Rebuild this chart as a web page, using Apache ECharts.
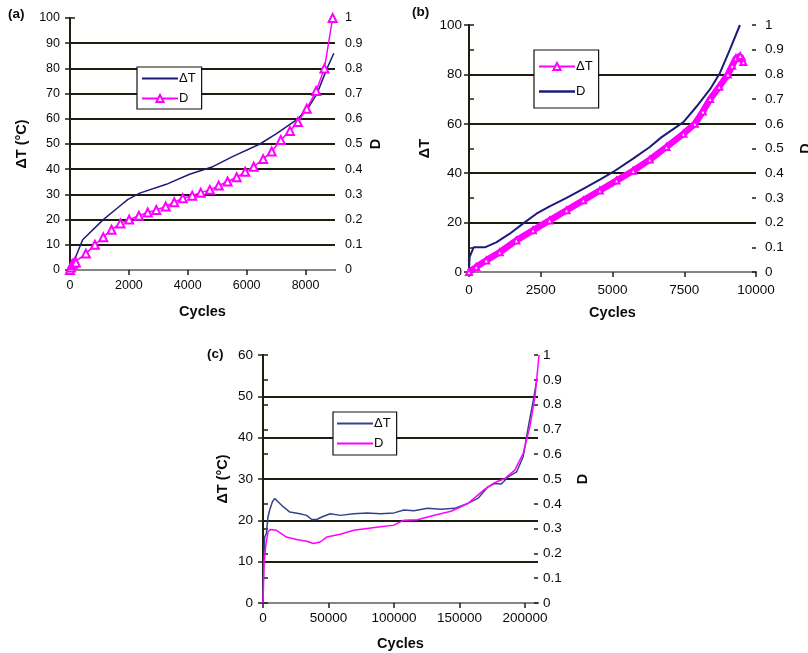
<!DOCTYPE html>
<html>
<head>
<meta charset="utf-8">
<script src="https://cdn.jsdelivr.net/npm/echarts@6/dist/echarts.min.js"></script>
<style>
  html, body { margin: 0; padding: 0; background: #fff; }
  #chart { width: 808px; height: 653px; }
</style>
</head>
<body>
<div id="chart"></div>
<script>
// ---- Panel (a): temperature rise and damage vs. cycles ----
const aDeltaT = [[0,0],[150,4],[430,12],[1130,20],[1600,24.5],[1970,28],[2370,30.5],[3270,34],[4060,38],[4850,41],[5520,45],[6450,50],[7000,54],[7740,60],[8100,64.5],[8390,70],[8730,80],[8960,86]];
const aDamage = [[0,0],[30,0.01],[60,0.02],[100,0.025],[150,0.03],[200,0.03],[540,0.065],[845,0.1],[1130,0.13],[1410,0.16],[1710,0.185],[2010,0.2],[2340,0.215],[2640,0.228],[2930,0.238],[3250,0.252],[3540,0.269],[3830,0.285],[4150,0.295],[4440,0.307],[4750,0.318],[5050,0.335],[5350,0.351],[5660,0.368],[5950,0.39],[6240,0.41],[6560,0.44],[6850,0.47],[7160,0.516],[7470,0.552],[7740,0.587],[8040,0.64],[8360,0.71],[8640,0.8],[8920,1.0]];

// ---- Panel (b) ----
const bDeltaT = [[0,0],[250,2],[600,4.7],[1070,8],[1650,12.8],[2230,16.9],[2810,20.9],[3400,25],[3980,29],[4560,33],[5140,37],[5720,41],[6300,45.5],[6880,50.6],[7470,56],[7870,60],[8150,65],[8400,70],[8720,75],[9020,80],[9170,83.5],[9300,86.5],[9450,87.5],[9560,85]];
const bDamage = [[0,0],[20,0.06],[160,0.1],[550,0.1],[950,0.12],[1420,0.155],[1880,0.196],[2350,0.236],[2810,0.266],[3400,0.3],[3980,0.337],[4560,0.374],[5020,0.405],[5720,0.459],[6300,0.506],[6700,0.545],[7470,0.607],[7930,0.67],[8400,0.74],[8740,0.805],[9090,0.9],[9440,1.0]];

// ---- Panel (c) ----
const cDeltaT = [[0,0],[500,9.5],[1300,16],[2600,16.8],[3800,20.8],[5100,22.5],[7200,24.5],[9000,25.3],[11500,24.5],[15400,23.3],[20500,22],[28200,21.6],[33300,21.2],[37200,20.2],[41000,20.2],[44900,20.8],[51300,21.6],[59000,21.2],[69200,21.6],[79500,21.8],[89700,21.6],[100000,21.8],[107700,22.5],[115400,22.3],[125600,22.9],[135900,22.7],[146200,22.9],[156400,24.1],[164100,25.3],[171800,28.1],[176900,28.9],[182000,28.8],[187200,30.5],[193600,31.7],[198700,35.4],[202600,42.6],[206400,49],[209000,53.8]];
const cDamage = [[0,0],[800,0.159],[2000,0.226],[3800,0.287],[5600,0.296],[10300,0.293],[17900,0.266],[25600,0.256],[33300,0.249],[38500,0.24],[43600,0.246],[48700,0.266],[59000,0.277],[69200,0.293],[79500,0.3],[89700,0.307],[100000,0.314],[107700,0.334],[117900,0.336],[130800,0.354],[143600,0.37],[156400,0.401],[169200,0.458],[176900,0.485],[184600,0.502],[192300,0.536],[198700,0.603],[203800,0.711],[207700,0.832],[210800,1.0]];

// axis ranges and tick steps per panel
const xRanges = [[0, 9000, 2000], [0, 10000, 2500], [0, 210000, 50000]];
const yLeftRanges = [[0, 100, 10], [0, 100, 20], [0, 60, 10]];
const yLeftNames = ['ΔT (°C)', 'ΔT', 'ΔT (°C)'];
const panelTags = ['(a)', '(b)', '(c)'];

const NAVY = '#1c1c78';
const NAVY_C = '#34448a';
const MAGENTA = '#ff00ff';
const INK = '#0a0a0a';
const GRID_INK = '#1e1e10';
const FONT = '"Liberation Sans", Arial, sans-serif';

const grids = [
  { left: 70, top: 18, width: 265, height: 252 },
  { left: 469, top: 25, width: 287, height: 247 },
  { left: 263, top: 355, width: 275, height: 248 }
];
const leftNameGap = [41, 37, 33];
const rightNameGap = [33, 42, 37];
const xNameGap = [34, 33, 33];
const labelSize = [12.5, 13.5, 13.5];
const xLabelMargin = [9, 11, 8];
const leftLabelMargin = [10, 7, 10];
const rightLabelMargin = [10, 9, 5];

const plainNum = v => String(Math.round(v * 1000) / 1000);
const nameStyle = { fontFamily: FONT, fontWeight: 'bold', fontSize: 14.5, color: INK };

const xAxes = [];
const yAxes = [];
grids.forEach((g, i) => {
  const [xmin, xmax, xstep] = xRanges[i];
  // cycles axis
  xAxes.push({
    type: 'value', gridIndex: i, min: xmin, max: xmax, interval: xstep,
    name: 'Cycles', nameLocation: 'middle', nameGap: xNameGap[i],
    nameTextStyle: nameStyle,
    axisLine: { show: true, onZero: false, lineStyle: { color: GRID_INK, width: 2 } },
    axisTick: { show: true, length: 5, lineStyle: { color: GRID_INK, width: 1.5 } },
    axisLabel: { fontFamily: FONT, fontSize: labelSize[i], color: INK, margin: xLabelMargin[i], showMaxLabel: i === 1, formatter: plainNum },
    splitLine: { show: false }
  });
  // light frame edge along the top of the plot
  xAxes.push({
    type: 'value', gridIndex: i, position: 'top', min: xmin, max: xmax,
    axisLine: { show: true, lineStyle: { color: '#a8a8a8', width: 1.5 } },
    axisTick: { show: false }, axisLabel: { show: false }, splitLine: { show: false }
  });
  const [ymin, ymax, ystep] = yLeftRanges[i];
  yAxes.push({
    type: 'value', gridIndex: i, position: 'left', min: ymin, max: ymax, interval: ystep,
    name: yLeftNames[i], nameLocation: 'middle', nameGap: leftNameGap[i],
    nameTextStyle: nameStyle,
    axisLine: { show: true, lineStyle: { color: GRID_INK, width: 2 } },
    axisTick: { show: true, length: 5, lineStyle: { color: GRID_INK, width: 1.5 } },
    axisLabel: { fontFamily: FONT, fontSize: labelSize[i], color: INK, margin: leftLabelMargin[i], formatter: plainNum },
    splitLine: { show: true, showMinLine: false, showMaxLine: false, lineStyle: { color: GRID_INK, width: 2 } }
  });
  yAxes.push({
    type: 'value', gridIndex: i, position: 'right', min: 0, max: 1, interval: 0.1,
    name: 'D', nameLocation: 'middle', nameGap: rightNameGap[i],
    nameTextStyle: nameStyle,
    axisLine: { show: true, lineStyle: { color: GRID_INK, width: 2 } },
    axisTick: { show: true, length: 5, lineStyle: { color: GRID_INK, width: 1.5 } },
    axisLabel: { fontFamily: FONT, fontSize: labelSize[i], color: INK, margin: rightLabelMargin[i], formatter: plainNum },
    splitLine: { show: false }
  });
});
// inner half of the crossing ticks on the D axes of panels (b) and (c)
[1, 2].forEach(i => {
  yAxes.push({
    type: 'value', gridIndex: i, position: 'right', min: 0, max: 1, interval: 0.1,
    axisLine: { show: false },
    axisTick: { show: true, inside: true, length: 4, lineStyle: { color: GRID_INK, width: 1.5 } },
    axisLabel: { show: false }, splitLine: { show: false }
  });
});

const plainLineIcon = 'path://M0,0 L36,0 L36,1.8 L0,1.8 Z';
const stripTag = n => n.split('_')[0];
const legendBase = {
  orient: 'vertical', selectedMode: false,
  backgroundColor: '#fff', borderColor: '#111', borderWidth: 1.2, borderRadius: 0,
  padding: [5, 6, 4, 4], itemWidth: 36, itemHeight: 9, itemGap: 7,
  textStyle: { fontFamily: FONT, fontSize: 13, color: INK, padding: [0, 0, 0, -4] },
  formatter: stripTag
};

const option = {
  animation: false,
  backgroundColor: '#fff',
  grid: grids.map(g => Object.assign({ containLabel: false, outerBoundsMode: 'none' }, g)),
  xAxis: xAxes,
  yAxis: yAxes,
  legend: [
    Object.assign({}, legendBase, { left: 137, top: 67,
      data: [{ name: 'ΔT_a', icon: plainLineIcon }, 'D_a'] }),
    Object.assign({}, legendBase, { left: 534, top: 50, padding: [10, 6, 10, 4], itemGap: 12,
      data: ['ΔT_b', { name: 'D_b', icon: 'path://M0,0 L36,0 L36,2.4 L0,2.4 Z' }] }),
    Object.assign({}, legendBase, { left: 333, top: 412, padding: [5, 6, 5, 4],
      data: [{ name: 'ΔT_c', icon: plainLineIcon }, { name: 'D_c', icon: plainLineIcon }] })
  ],
  graphic: panelTags.map((t, i) => ({
    type: 'text',
    left: [8, 412, 207][i], top: [7, 5, 347][i],
    style: { text: t, font: 'bold 13.5px ' + FONT, fill: INK }
  })),
  series: [
    { name: 'ΔT_a', type: 'line', xAxisIndex: 0, yAxisIndex: 0, data: aDeltaT, symbol: 'none',
      lineStyle: { color: NAVY, width: 1.5 }, itemStyle: { color: NAVY } },
    { name: 'D_a', type: 'line', xAxisIndex: 0, yAxisIndex: 1, data: aDamage, symbol: 'emptyTriangle', symbolSize: 8,
      lineStyle: { color: MAGENTA, width: 1.5 }, itemStyle: { color: MAGENTA, borderWidth: 1.3 } },

    { name: 'ΔT_b', type: 'line', xAxisIndex: 2, yAxisIndex: 2, data: bDeltaT, symbol: 'emptyTriangle', symbolSize: 6,
      lineStyle: { color: MAGENTA, width: 6.5 }, itemStyle: { color: MAGENTA, borderWidth: 2 } },
    { name: 'D_b', type: 'line', xAxisIndex: 2, yAxisIndex: 3, data: bDamage, symbol: 'none',
      lineStyle: { color: NAVY, width: 2 }, itemStyle: { color: NAVY } },

    { name: 'ΔT_c', type: 'line', xAxisIndex: 4, yAxisIndex: 4, data: cDeltaT, symbol: 'none',
      lineStyle: { color: NAVY_C, width: 1.5 }, itemStyle: { color: NAVY_C } },
    { name: 'D_c', type: 'line', xAxisIndex: 4, yAxisIndex: 5, data: cDamage, symbol: 'none',
      lineStyle: { color: MAGENTA, width: 1.5 }, itemStyle: { color: MAGENTA } }
  ]
};

const chart = echarts.init(document.getElementById('chart'), null, { renderer: 'canvas' });
chart.setOption(option);
</script>
</body>
</html>
